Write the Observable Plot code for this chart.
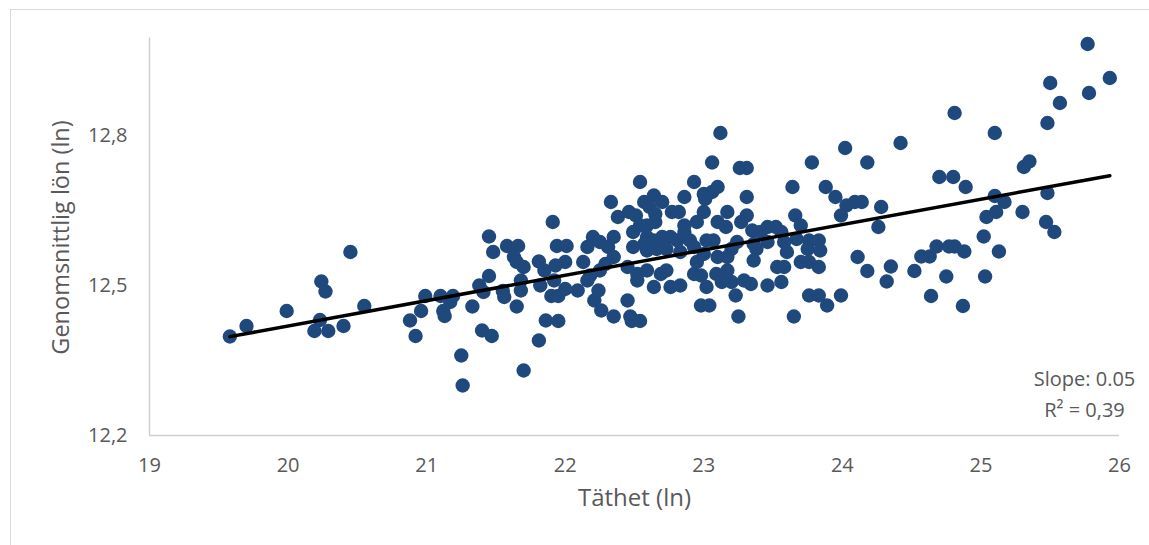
<!DOCTYPE html>
<html>
<head>
<meta charset="utf-8">
<script src="https://cdn.jsdelivr.net/npm/d3@7"></script>
<script src="https://cdn.jsdelivr.net/npm/@observablehq/plot@0.6"></script>
<style>
  html, body { margin: 0; padding: 0; background: #fff; overflow: hidden; }
  #frame { position: absolute; left: 10px; top: 9px; width: 1160px; height: 560px; border: 1.5px solid #d9d9d9; box-sizing: border-box; }
  #chart { position: absolute; left: 0; top: 0; }
</style>
</head>
<body>
<div id="frame"></div>
<div id="chart"></div>
<script>
// Täthet (ln) — x values
const density = [
  19.58,19.70,19.99,20.45,20.24,20.27,20.23,20.19,20.29,20.40,20.55,20.88,20.92,20.96,20.99,21.10,21.12,21.13,21.17,21.19,
  21.25,21.26,21.33,21.38,21.41,21.45,21.45,21.48,21.40,21.47,21.55,21.56,21.58,21.66,21.63,21.65,21.70,21.68,21.68,21.65,
  21.70,21.81,21.86,21.95,21.81,21.82,21.85,21.91,21.94,22.01,21.93,22.00,21.92,21.90,21.95,22.00,22.09,22.13,22.16,22.20,
  22.16,22.21,22.26,
  22.54,22.33,22.38,22.46,22.51,22.57,22.64,22.70,22.61,22.65,22.77,22.82,22.86,22.93,22.86,22.86,22.95,22.49,22.54,22.59,
  22.65,22.59,22.57,22.64,22.70,22.76,22.81,22.90,22.49,22.59,22.66,22.73,22.83,22.93,22.25,22.35,22.31,22.35,22.25,22.18,
  22.29,22.24,22.45,22.45,22.52,22.59,22.52,22.64,22.69,22.73,22.76,22.83,22.93,22.95,
  23.12,23.06,23.26,23.31,23.78,24.02,24.18,
  23.00,23.10,23.06,23.01,23.31,23.64,23.88,23.95,24.03,24.09,23.99,23.00,23.17,23.31,23.10,23.27,23.16,23.35,23.46,23.52,
  23.66,23.70,23.56,23.41,23.02,23.07,23.24,23.36,23.46,23.58,23.67,23.76,23.83,23.20,23.38,23.60,23.75,23.84,24.11,23.00,
  23.10,23.17,23.36,23.53,23.58,23.70,23.76,23.83,22.98,23.09,23.17,23.20,23.29,23.34,23.13,23.02,23.46,23.56,23.23,23.76,
  23.83,23.99,23.89,22.98,23.04,
  22.35,22.47,22.48,22.54,23.25,23.65,
  25.77,25.93,25.50,25.78,25.57,24.81,25.48,25.10,24.42,25.35,25.31,24.70,24.80,24.89,25.10,25.17,25.48,24.14,24.28,24.26,
  25.04,25.11,25.30,25.02,25.47,25.53,25.13,24.68,24.77,24.81,24.88,24.57,24.63,24.18,24.35,24.32,24.52,24.75,25.03,24.64,
  24.87
];
// Genomsnittlig lön (ln) — y values
const wage = [
  12.398,12.419,12.449,12.567,12.508,12.488,12.431,12.409,12.409,12.419,12.459,12.430,12.399,12.449,12.479,12.479,12.449,12.439,12.467,12.479,
  12.360,12.300,12.458,12.500,12.487,12.519,12.598,12.567,12.410,12.399,12.489,12.477,12.579,12.579,12.557,12.547,12.537,12.510,12.490,12.458,
  12.330,12.390,12.430,12.429,12.548,12.500,12.530,12.627,12.579,12.579,12.540,12.547,12.510,12.479,12.479,12.493,12.490,12.547,12.577,12.597,
  12.510,12.470,12.450,
  12.707,12.667,12.637,12.647,12.640,12.667,12.680,12.667,12.657,12.643,12.647,12.647,12.677,12.707,12.620,12.607,12.627,12.607,12.620,12.620,
  12.627,12.597,12.583,12.590,12.597,12.597,12.590,12.590,12.577,12.570,12.573,12.573,12.567,12.577,12.587,12.597,12.577,12.557,12.530,12.520,
  12.543,12.490,12.470,12.537,12.523,12.530,12.510,12.497,12.523,12.530,12.497,12.500,12.523,12.547,
  12.805,12.746,12.735,12.735,12.746,12.775,12.746,
  12.683,12.697,12.687,12.673,12.677,12.697,12.697,12.677,12.660,12.667,12.640,12.647,12.647,12.640,12.627,12.627,12.617,12.610,12.617,12.617,
  12.640,12.620,12.607,12.607,12.590,12.590,12.587,12.583,12.587,12.587,12.593,12.590,12.590,12.573,12.573,12.567,12.573,12.570,12.557,12.563,
  12.557,12.557,12.550,12.537,12.537,12.547,12.547,12.537,12.520,12.523,12.530,12.507,12.510,12.503,12.507,12.497,12.500,12.507,12.480,12.480,
  12.480,12.480,12.460,12.460,12.460,
  12.438,12.438,12.429,12.429,12.438,12.438,
  12.983,12.915,12.905,12.885,12.865,12.845,12.825,12.805,12.785,12.748,12.737,12.717,12.717,12.697,12.679,12.667,12.685,12.667,12.657,12.617,
  12.637,12.647,12.647,12.598,12.627,12.607,12.568,12.578,12.578,12.578,12.568,12.558,12.558,12.529,12.538,12.508,12.529,12.518,12.518,12.479,
  12.459
];
const xTicks = [19, 20, 21, 22, 23, 24, 25, 26];
const yTicks = [12.2, 12.5, 12.8];
const trendSlope = 0.0507;
const trendIntercept = 11.405;
const slopeLabel = "Slope: 0.05";
const r2Label = "R² = 0,39";
const xTitle = "Täthet (ln)";
const yTitle = "Genomsnittlig lön (ln)";

const points = density.map((d, i) => ({x: d, y: wage[i]}));
const xMin = d3.min(density), xMax = d3.max(density);
const trend = [xMin, xMax].map(x => ({x, y: trendIntercept + trendSlope * x}));

const grey = "#595959";
const font = "'Open Sans', sans-serif";

const chart = Plot.plot({
  width: 1149,
  height: 545,
  marginLeft: 149,
  marginRight: 30,
  marginTop: 35,
  marginBottom: 110,
  style: {fontFamily: font, background: "transparent", overflow: "visible"},
  x: {domain: [19, 26]},
  y: {domain: [12.2, 13.0]},
  marks: [
    Plot.ruleY([12.2], {x1: 19, x2: 26, stroke: "#cfcfcf", strokeWidth: 1.5}),
    Plot.ruleX([19], {y1: 12.2, y2: 12.995, stroke: "#cfcfcf", strokeWidth: 1.5}),
    Plot.axisX({ticks: xTicks, tickSize: 0, tickPadding: 22, fontSize: 20, color: grey, label: null, tickFormat: d => String(d)}),
    Plot.axisY({ticks: yTicks, tickSize: 0, tickPadding: 22, fontSize: 20, color: grey, label: null, tickFormat: d => d.toFixed(1).replace(".", ",")}),
    Plot.dot(points, {x: "x", y: "y", r: 7.2, fill: "#1f497d", stroke: "none"}),
    Plot.line(trend, {x: "x", y: "y", stroke: "#000", strokeWidth: 3.5}),
    Plot.text([xTitle], {frameAnchor: "bottom", dy: 70, fontSize: 24, fill: grey, text: d => d}),
    Plot.text([yTitle], {frameAnchor: "left", dx: -88, dy: 2, rotate: -90, textAnchor: "middle", fontSize: 23.5, fill: grey, text: d => d}),
    Plot.text([slopeLabel], {frameAnchor: "bottom-right", dx: -35, dy: -50, textAnchor: "middle", fontSize: 20, fill: grey, text: d => d}),
    Plot.text([r2Label], {frameAnchor: "bottom-right", dx: -35, dy: -19, textAnchor: "middle", fontSize: 20, fill: grey, text: d => d})
  ]
});
document.getElementById("chart").appendChild(chart);
</script>
</body>
</html>
